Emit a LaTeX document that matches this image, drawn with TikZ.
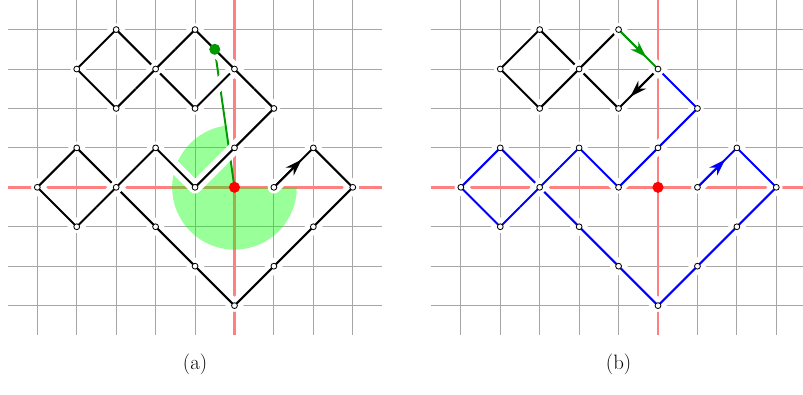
\documentclass[tikz,border=0pt]{standalone}
\usetikzlibrary{arrows.meta,calc}

\tikzset{
  gridline/.style={black!35, line width=0.7pt},
  axisline/.style={red!50, line width=2pt},
  halo/.style={preaction={draw=white, line width=9pt, line cap=round, line join=round}},
  walk/.style={halo, line width=1.5pt},
  overpass/.style={preaction={draw=white, line width=9pt}, line width=1.5pt},
  arrowpart/.style={-{Stealth[length=12pt, width=8pt]}, line width=1.5pt},
  site/.style={circle, draw=black, fill=white, line width=0.6pt, inner sep=0pt, minimum size=4.2pt},
  bigdot/.style={circle, fill=#1, inner sep=0pt, minimum size=8pt},
  caption/.style={font=\fontsize{15}{18}\selectfont},
}

% grid with the two red axes
\newcommand{\latticegrid}{%
  \foreach \x in {-5,...,3} \draw[gridline] (\x,-3.75) -- (\x,4.75);
  \foreach \y in {-3,...,4} \draw[gridline] (-5.75,\y) -- (3.75,\y);
  \draw[axisline] (-5.75,0) -- (3.75,0);
  \draw[axisline] (0,-3.75) -- (0,4.75);}

% lattice points of the walk, in walk order
\newcommand{\walkpoints}[1]{%
  \foreach \n/\x/\y in {0/1/0,1/2/1,2/3/0,3/2/-1,4/1/-2,5/0/-3,6/-1/-2,7/-2/-1,
      8/-3/0,9/-4/1,10/-5/0,11/-4/-1,12/-2/1,13/-1/0,14/0/1,15/1/2,16/0/3,
      17/-1/2,18/-2/3,19/-3/4,20/-4/3,21/-3/2,22/-1/4}
    \coordinate (#1\n) at (\x,\y);}

\begin{document}
\begin{tikzpicture}
  \useasboundingbox (-5.946,-5.242) rectangle (14.417,4.75);

  % (a)
  \latticegrid
  \walkpoints{a}
  \coordinate (ao) at (0,0);
  \coordinate (ag) at (-0.5,3.5);
  \fill[green, fill opacity=0.4] (ao) -- ++(98.13:1.58) arc[start angle=98.13, end angle=360, radius=1.58] -- cycle;
  \draw[green!60!black, line width=1.4pt] (ao) -- (ag);
  \draw[walk] (a0) -- (a1) -- (a2) -- (a3) -- (a4) -- (a5) -- (a6) -- (a7) -- (a8) -- (a9) -- (a10) -- (a11) -- (a8)
    -- (a12) -- (a13) -- (a14) -- (a15) -- (a16) -- (a17) -- (a18) -- (a19) -- (a20) -- (a21) -- (a18) -- (a22) -- (a16);
  \draw[overpass] ($(a11)!.5!(a8)$) -- (a8) -- ($(a8)!.5!(a12)$);
  \draw[overpass] ($(a21)!.5!(a18)$) -- (a18) -- ($(a18)!.5!(a22)$);
  \draw[overpass] ($(a22)!.5!(a16)$) -- (a16) -- ($(a16)!.5!(a15)$);
  \draw[arrowpart] (a0) -- ($(a0)!.7!(a1)$);
  \foreach \n in {0,...,22} \node[site] (as\n) at (a\n) {};
  \node[bigdot=red] (aorigin) at (ao) {};
  \node[bigdot=green!60!black] (atip) at (ag) {};
  \node[caption] (alabel) at (-1,-4.5) {(a)};

  % (b)
  \begin{scope}[xshift=10.74cm]
    \latticegrid
    \walkpoints{b}
    \draw[walk, blue] (b0) -- (b1) -- (b2) -- (b3) -- (b4) -- (b5) -- (b6) -- (b7) -- (b8) -- (b9) -- (b10) -- (b11) -- (b8)
      -- (b12) -- (b13) -- (b14) -- (b15) -- (b16);
    \draw[overpass, blue] ($(b11)!.5!(b8)$) -- (b8) -- ($(b8)!.5!(b12)$);
    \draw[arrowpart, blue] (b0) -- ($(b0)!.7!(b1)$);
    \draw[walk] (b16) -- (b17) -- (b18) -- (b19) -- (b20) -- (b21) -- (b18) -- (b22);
    \draw[overpass] ($(b21)!.5!(b18)$) -- (b18) -- ($(b18)!.5!(b22)$);
    \draw[arrowpart] (b16) -- ($(b16)!.7!(b17)$);
    \draw[walk, green!60!black] (b22) -- (b16);
    \draw[arrowpart, green!60!black] (b22) -- ($(b22)!.7!(b16)$);
    \foreach \n in {0,...,22} \node[site] (bs\n) at (b\n) {};
    \node[bigdot=red] (borigin) at (0,0) {};
    \node[caption] (blabel) at (-1,-4.5) {(b)};
  \end{scope}
\end{tikzpicture}
\end{document}
